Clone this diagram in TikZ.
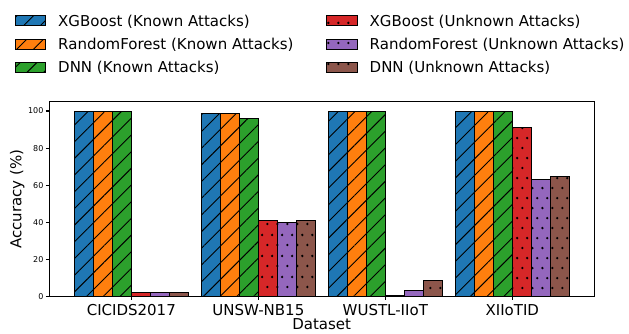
\documentclass[tikz,border=0pt]{standalone}
\usepackage{fontspec}
\setmainfont{DejaVu Sans}
\usetikzlibrary{patterns.meta}
\definecolor{tabblue}{HTML}{1F77B4}
\definecolor{taborange}{HTML}{FF7F0E}
\definecolor{tabgreen}{HTML}{2CA02C}
\definecolor{tabred}{HTML}{D62728}
\definecolor{tabpurple}{HTML}{9467BD}
\definecolor{tabbrown}{HTML}{8C564B}
\pgfdeclarepattern{
  name=StagDots,
  type=uncolored,
  bottom left={\pgfpoint{0pt}{0pt}},
  top right={\pgfpoint{10.2pt}{20.4pt}},
  tile size={\pgfpoint{10.2pt}{20.4pt}},
  code={
    \pgfpathcircle{\pgfpoint{2.55pt}{5.1pt}}{1.35pt}
    \pgfpathcircle{\pgfpoint{7.65pt}{15.3pt}}{1.35pt}
    \pgfusepath{fill}
  }
}
\tikzset{
  kbar/.style={fill=#1, draw=black, line width=1pt,
    postaction={pattern={Lines[angle=45,distance=11.8pt,line width=0.9pt]}, pattern color=black}},
  ubar/.style={fill=#1, draw=black, line width=1pt,
    postaction={pattern=StagDots, pattern color=black}},
  lbl/.style={inner sep=0pt, font=\fontsize{15}{18}\selectfont},
  ytl/.style={inner sep=0pt, anchor=east, font=\fontsize{8}{10}\selectfont},
  axisline/.style={line width=1.1pt, black},
}
\newcommand{\mybar}[4]{%
  \pgfmathsetmacro\xl{131.3+127*#1+(#2-3)*19.05}%
  \pgfmathsetmacro\xr{\xl+19.05}%
  \pgfmathsetmacro\yt{296.7-1.857*#3}%
  \draw[#4] (\xl,296.7) rectangle (\xr,\yt);%
}
\newcommand{\dsgroup}[7]{%
  \mybar{#1}{0}{#2}{kbar=tabblue}%
  \mybar{#1}{1}{#3}{kbar=taborange}%
  \mybar{#1}{2}{#4}{kbar=tabgreen}%
  \mybar{#1}{3}{#5}{ubar=tabred}%
  \mybar{#1}{4}{#6}{ubar=tabpurple}%
  \mybar{#1}{5}{#7}{ubar=tabbrown}%
}
\begin{document}
\begin{tikzpicture}[x=1pt,y=-1pt]
\useasboundingbox (0,0) rectangle (629,333);
% bars
\dsgroup{0}{100}{100}{100}{2.4}{2.4}{2.4}
\dsgroup{1}{98.8}{98.4}{95.7}{41.3}{40.1}{41.1}
\dsgroup{2}{100}{100}{100}{0.9}{3.2}{8.8}
\dsgroup{3}{100}{100}{100}{91.2}{63.2}{64.8}
% frame
\draw[axisline] (49.3,101.7) rectangle (594.2,296.7);
% y ticks
\foreach \v in {0,20,40,60,80,100}{
  \pgfmathsetmacro\yy{296.7-1.857*\v}
  \draw[axisline] (45.8,\yy) -- (49.3,\yy);
  \node[ytl] (yt\v) at (43.6,\yy) {\v};
}
% x ticks and labels
\foreach \i/\name in {0/CICIDS2017,1/UNSW-NB15,2/WUSTL-IIoT,3/XIIoTID}{
  \pgfmathsetmacro\xx{131.3+127*\i}
  \draw[axisline] (\xx,296.7) -- (\xx,300.2);
  \node[lbl, anchor=base] (xt\i) at (\xx,315.5) {\name};
}
\node[lbl, anchor=base] (xlab) at (321.7,329.3) {Dataset};
\node[lbl, anchor=base, rotate=90] (ylab) at (21.3,199.2) {Accuracy (\%)};
% legend
\draw[kbar=tabblue]   (15,15.7) rectangle (45.7,25.7);
\draw[kbar=taborange] (15,39) rectangle (45.7,49);
\draw[kbar=tabgreen]  (15,62.3) rectangle (45.7,72.3);
\node[lbl, anchor=base west] (l1) at (58,26) {XGBoost (Known Attacks)};
\node[lbl, anchor=base west] (l2) at (58,49.3) {RandomForest (Known Attacks)};
\node[lbl, anchor=base west] (l3) at (58,72.6) {DNN (Known Attacks)};
\draw[ubar=tabred]    (326.7,15.7) rectangle (357.3,25.7);
\draw[ubar=tabpurple] (326.7,39) rectangle (357.3,49);
\draw[ubar=tabbrown]  (326.7,62.3) rectangle (357.3,72.3);
\node[lbl, anchor=base west] (r1) at (369.5,26) {XGBoost (Unknown Attacks)};
\node[lbl, anchor=base west] (r2) at (369.5,49.3) {RandomForest (Unknown Attacks)};
\node[lbl, anchor=base west] (r3) at (369.5,72.6) {DNN (Unknown Attacks)};
\end{tikzpicture}
\end{document}
